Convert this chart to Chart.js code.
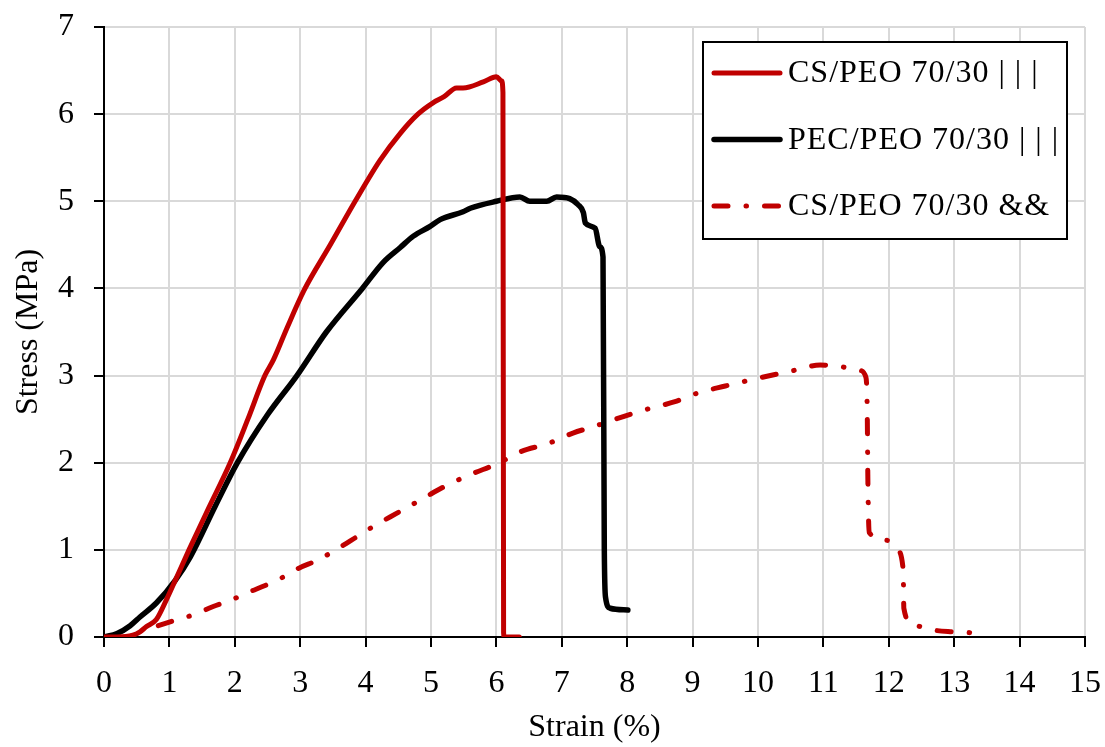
<!DOCTYPE html>
<html>
<head>
<meta charset="utf-8">
<script src="https://cdn.jsdelivr.net/npm/chart.js@4.4.1/dist/chart.umd.min.js"></script>
<style>
  html, body { margin: 0; padding: 0; background: #fff; }
  canvas { display: block; }
</style>
</head>
<body>
<canvas id="chart" width="1105" height="747"></canvas>
<script>
// values
const seriesNames = ["CS/PEO 70/30 | | |", "PEC/PEO 70/30 | | |", "CS/PEO 70/30 &&"];

const csStrain = [0, 0.2, 0.44, 0.55, 0.65, 0.8, 0.95, 1.09, 1.3, 1.6, 1.93, 2.2, 2.46, 2.59, 2.8, 3.06, 3.46, 3.84, 4.22, 4.53, 4.8, 5.03, 5.2, 5.39, 5.49, 5.8, 6.0, 6.08, 6.1, 6.11, 6.12, 6.35];
const csStress = [0, 0, 0.02, 0.06, 0.12, 0.2, 0.42, 0.65, 1.0, 1.48, 2.0, 2.5, 3.0, 3.18, 3.55, 3.98, 4.5, 5.0, 5.47, 5.78, 6.0, 6.13, 6.2, 6.3, 6.3, 6.37, 6.43, 6.38, 6.25, 0.05, 0, 0];

const pecStrain = [0, 0.2, 0.4, 0.55, 0.8, 1.09, 1.32, 1.7, 2.04, 2.5, 2.95, 3.4, 3.95, 4.27, 4.53, 4.73, 4.98, 5.14, 5.49, 5.6, 6.0, 6.36, 6.51, 6.77, 6.92, 7.12, 7.25, 7.33, 7.36, 7.51, 7.58, 7.63, 7.65, 7.67, 7.74, 8.01];
const pecStress = [0, 0.04, 0.13, 0.23, 0.39, 0.65, 0.92, 1.5, 2.0, 2.55, 3.0, 3.5, 4.0, 4.3, 4.47, 4.6, 4.71, 4.79, 4.88, 4.92, 5.0, 5.05, 5.0, 5.0, 5.05, 5.03, 4.96, 4.87, 4.75, 4.69, 4.48, 4.36, 1.0, 0.45, 0.33, 0.31];

const cs2Strain = [0.83, 1.12, 1.39, 1.67, 1.93, 2.2, 2.49, 2.72, 2.98, 3.26, 3.5, 3.76, 4.12, 4.5, 4.88, 5.24, 5.62, 6.02, 6.38, 6.79, 7.17, 7.55, 7.94, 8.33, 8.73, 9.08, 9.5, 10.0, 10.5, 10.95, 11.2, 11.55, 11.65, 11.67, 11.68, 11.7, 11.97, 12.13, 12.22, 12.23, 12.37, 12.68, 12.94, 13.24];
const cs2Stress = [0.13, 0.2, 0.26, 0.35, 0.42, 0.51, 0.6, 0.68, 0.79, 0.88, 0.98, 1.1, 1.27, 1.43, 1.59, 1.74, 1.87, 1.99, 2.13, 2.22, 2.34, 2.43, 2.53, 2.62, 2.7, 2.8, 2.88, 2.97, 3.05, 3.12, 3.11, 3.06, 2.98, 2.6, 1.8, 1.2, 1.11, 1.0, 0.77, 0.33, 0.14, 0.08, 0.06, 0.05];

const FONT = "'Palatino Linotype', 'Book Antiqua', Palatino, 'Liberation Serif', serif";
const FONT_SIZE = 32;
const RED = "#c00000";
const DASH_DOT = [14, 18, 0.5, 18];

const $ = (id) => document.getElementById(id);

function points(xs, ys) {
  return xs.map((x, i) => ({ x, y: ys[i] }));
}

function lineSet(label, xs, ys, color, width, dash) {
  return {
    label,
    data: points(xs, ys),
    showLine: true,
    borderColor: color,
    backgroundColor: color,
    borderWidth: width,
    borderDash: dash || [],
    borderCapStyle: "round",
    borderJoinStyle: "round",
    pointRadius: 0,
    cubicInterpolationMode: "monotone"
  };
}

// legend box drawn inside the plot, top right
const boxLegend = {
  id: "boxLegend",
  afterDraw(chart) {
    const { ctx, chartArea } = chart;
    const w = 364, h = 197;
    const left = chartArea.right - 18 - w;
    const top = chartArea.top + 15;

    ctx.save();
    ctx.fillStyle = "#fff";
    ctx.fillRect(left, top, w, h);
    ctx.strokeStyle = "#000";
    ctx.lineWidth = 2;
    ctx.strokeRect(left, top, w, h);

    ctx.font = FONT_SIZE + "px " + FONT;
    ctx.letterSpacing = "1px";
    ctx.textBaseline = "middle";
    ctx.fillStyle = "#000";

    chart.data.datasets.forEach((ds, i) => {
      const y = top + 31 + i * 66.5;
      ctx.beginPath();
      ctx.strokeStyle = ds.borderColor;
      ctx.lineWidth = ds.borderWidth;
      ctx.lineCap = "round";
      ctx.setLineDash(ds.borderDash);
      ctx.moveTo(left + 11, y);
      ctx.lineTo(left + 77, y);
      ctx.stroke();
      ctx.setLineDash([]);
      ctx.fillText(ds.label, left + 85, y + 1);
    });
    ctx.restore();
  }
};

function axis(min, max, title, titlePad) {
  return {
    type: "linear",
    min,
    max,
    ticks: {
      stepSize: 1,
      color: "#000",
      padding: 17,
      font: { family: FONT, size: FONT_SIZE }
    },
    grid: {
      color: "#d9d9d9",
      lineWidth: 2,
      tickColor: "#000",
      tickLength: 10,
      tickWidth: 2
    },
    border: { color: "#000", width: 2 },
    title: {
      display: true,
      text: title,
      color: "#000",
      padding: titlePad,
      font: { family: FONT, size: FONT_SIZE }
    }
  };
}

// fixed box sizes, no label overhang padding -> plot area set by layout.padding
function fixBox(size) {
  return (s) => {
    if (s.isHorizontal()) s.height = size;
    else s.width = size;
    s.paddingTop = 0;
    s.paddingBottom = 0;
    s.paddingLeft = 0;
    s.paddingRight = 0;
  };
}

function renderChart() {
  const xScale = axis(0, 15, "Strain (%)", { top: 4, bottom: 0 });
  xScale.afterFit = fixBox(747 - 637);

  const yScale = axis(0, 7, "Stress (MPa)", { top: 9, bottom: 0 });
  yScale.ticks.padding = 20;
  yScale.afterFit = fixBox(104);

  new Chart($("chart"), {
    type: "scatter",
    data: {
      datasets: [
        lineSet(seriesNames[0], csStrain, csStress, RED, 5),
        lineSet(seriesNames[1], pecStrain, pecStress, "#000", 5.5),
        lineSet(seriesNames[2], cs2Strain, cs2Stress, RED, 5, DASH_DOT)
      ]
    },
    options: {
      responsive: false,
      animation: false,
      devicePixelRatio: 1,
      layout: { padding: { top: 27, right: 20, bottom: 0, left: 0 } },
      plugins: {
        legend: { display: false },
        tooltip: { enabled: false }
      },
      scales: { x: xScale, y: yScale }
    },
    plugins: [boxLegend]
  });
}

document.addEventListener("DOMContentLoaded", renderChart);
</script>
</body>
</html>
